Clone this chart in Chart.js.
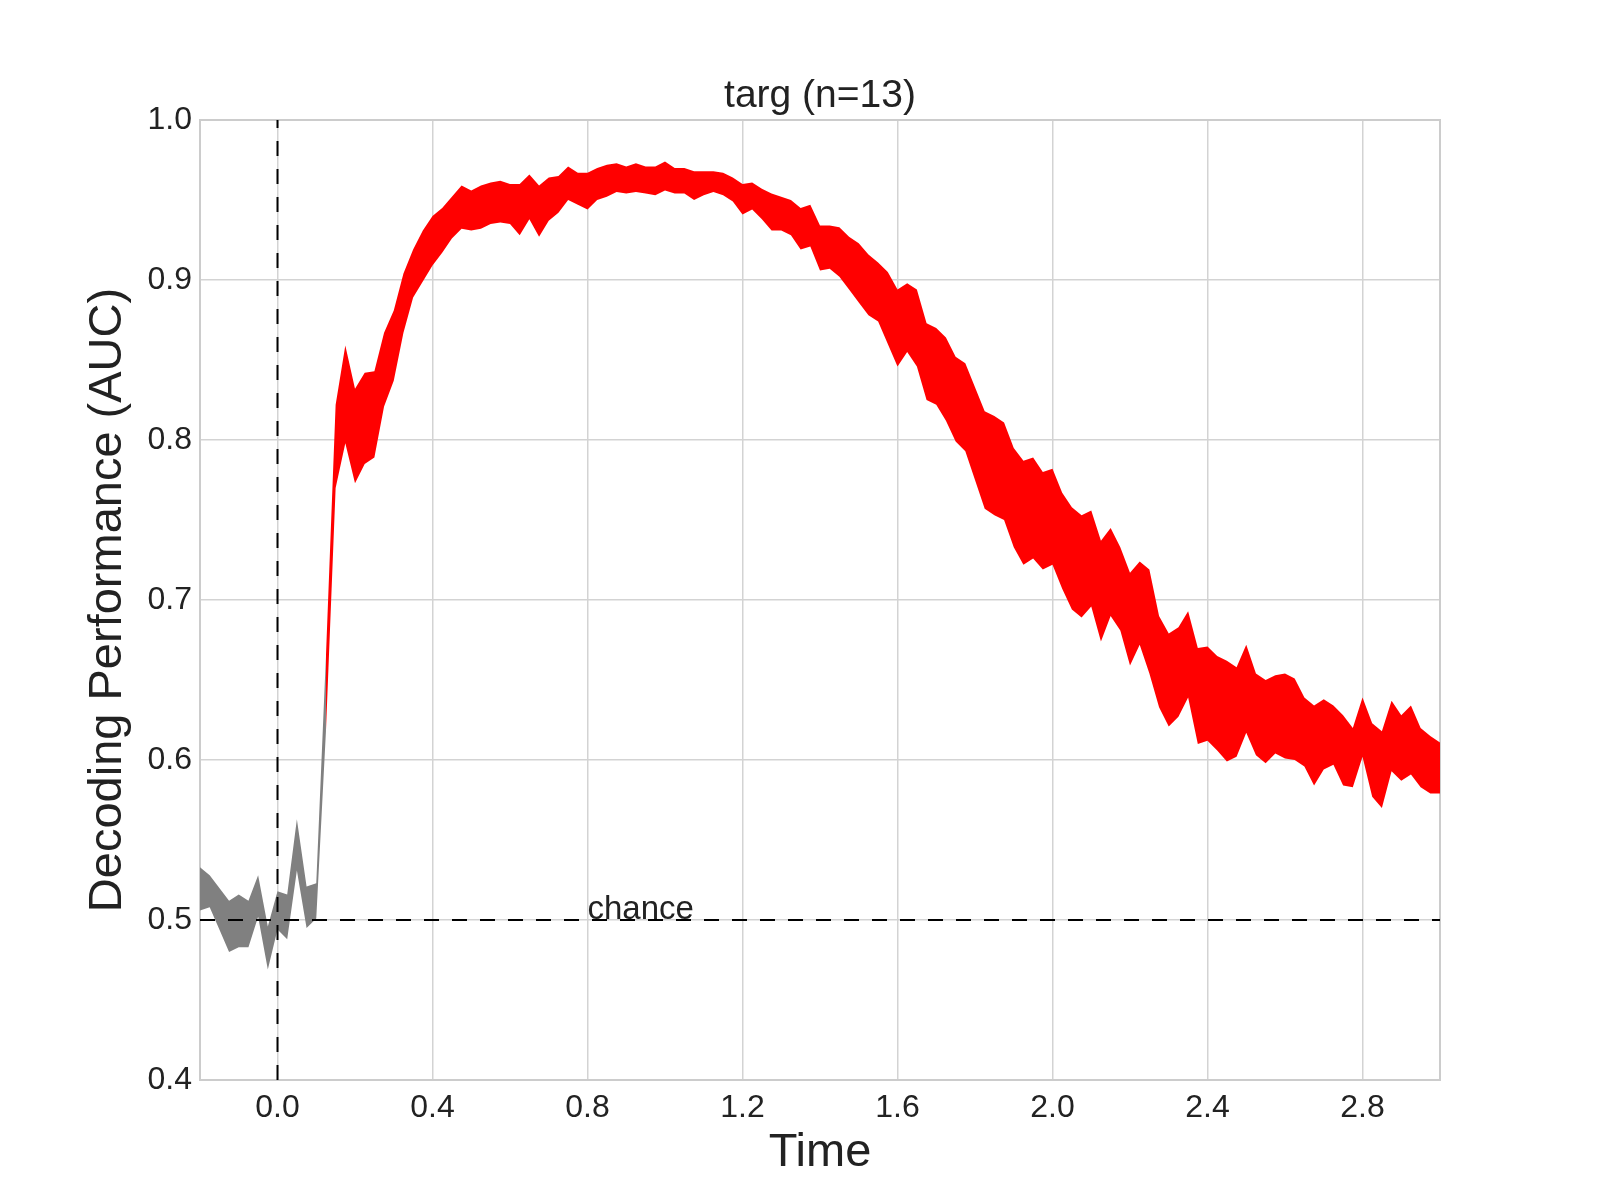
<!DOCTYPE html>
<html>
<head>
<meta charset="utf-8">
<title>targ (n=13)</title>
<script src="https://cdn.jsdelivr.net/npm/chart.js@4.4.1/dist/chart.umd.min.js"></script>
<style>
  html, body { margin: 0; padding: 0; background: #ffffff; }
  #wrap { width: 1600px; height: 1200px; position: relative; }
</style>
</head>
<body>
<div id="wrap"><canvas id="chart"></canvas></div>
<script>
// time axis (s), one sample every 25 ms
const times = [
  -0.2, -0.175, -0.15, -0.125, -0.1, -0.075, -0.05, -0.025,
  0.0, 0.025, 0.05, 0.075, 0.1, 0.125, 0.15, 0.175,
  0.2, 0.225, 0.25, 0.275, 0.3, 0.325, 0.35, 0.375,
  0.4, 0.425, 0.45, 0.475, 0.5, 0.525, 0.55, 0.575,
  0.6, 0.625, 0.65, 0.675, 0.7, 0.725, 0.75, 0.775,
  0.8, 0.825, 0.85, 0.875, 0.9, 0.925, 0.95, 0.975,
  1.0, 1.025, 1.05, 1.075, 1.1, 1.125, 1.15, 1.175,
  1.2, 1.225, 1.25, 1.275, 1.3, 1.325, 1.35, 1.375,
  1.4, 1.425, 1.45, 1.475, 1.5, 1.525, 1.55, 1.575,
  1.6, 1.625, 1.65, 1.675, 1.7, 1.725, 1.75, 1.775,
  1.8, 1.825, 1.85, 1.875, 1.9, 1.925, 1.95, 1.975,
  2.0, 2.025, 2.05, 2.075, 2.1, 2.125, 2.15, 2.175,
  2.2, 2.225, 2.25, 2.275, 2.3, 2.325, 2.35, 2.375,
  2.4, 2.425, 2.45, 2.475, 2.5, 2.525, 2.55, 2.575,
  2.6, 2.625, 2.65, 2.675, 2.7, 2.725, 2.75, 2.775,
  2.8, 2.825, 2.85, 2.875, 2.9, 2.925, 2.95, 2.975,
  3.0
];

// upper edge of the AUC band
const aucUpper = [
  0.533, 0.528, 0.520, 0.512, 0.516, 0.512, 0.528, 0.496,
  0.518, 0.516, 0.563, 0.521, 0.523, 0.665, 0.822, 0.859,
  0.832, 0.842, 0.843, 0.867, 0.881, 0.904, 0.919, 0.931,
  0.940, 0.945, 0.952, 0.959, 0.956, 0.959, 0.961, 0.962,
  0.960, 0.960, 0.966, 0.959, 0.964, 0.965, 0.971, 0.967,
  0.967, 0.970, 0.972, 0.973, 0.971, 0.973, 0.971, 0.971,
  0.974, 0.970, 0.970, 0.968, 0.968, 0.968, 0.967, 0.964,
  0.960, 0.961, 0.957, 0.954, 0.952, 0.950, 0.945, 0.947,
  0.934, 0.934, 0.933, 0.927, 0.923, 0.916, 0.911, 0.905,
  0.894, 0.898, 0.894, 0.873, 0.870, 0.864, 0.852, 0.848,
  0.833, 0.818, 0.815, 0.811, 0.795, 0.787, 0.789, 0.780,
  0.782, 0.767, 0.758, 0.753, 0.756, 0.737, 0.745, 0.733,
  0.717, 0.724, 0.719, 0.690, 0.679, 0.683, 0.693, 0.670,
  0.671, 0.665, 0.662, 0.658, 0.672, 0.654, 0.650, 0.653,
  0.654, 0.651, 0.639, 0.634, 0.638, 0.634, 0.628, 0.620,
  0.639, 0.623, 0.618, 0.637, 0.628, 0.634, 0.620, 0.615,
  0.611
];

// lower edge of the AUC band
const aucLower = [
  0.506, 0.508, 0.494, 0.480, 0.483, 0.483, 0.502, 0.469,
  0.494, 0.488, 0.531, 0.495, 0.501, 0.618, 0.770, 0.798,
  0.773, 0.785, 0.789, 0.821, 0.837, 0.867, 0.889, 0.899,
  0.909, 0.917, 0.926, 0.932, 0.931, 0.932, 0.935, 0.936,
  0.935, 0.928, 0.938, 0.927, 0.937, 0.942, 0.950, 0.947,
  0.944, 0.950, 0.952, 0.955, 0.954, 0.955, 0.954, 0.953,
  0.956, 0.954, 0.954, 0.950, 0.953, 0.955, 0.953, 0.949,
  0.941, 0.944, 0.938, 0.931, 0.931, 0.928, 0.919, 0.921,
  0.906, 0.907, 0.902, 0.894, 0.886, 0.878, 0.874, 0.860,
  0.846, 0.855, 0.846, 0.825, 0.822, 0.812, 0.799, 0.793,
  0.775, 0.757, 0.753, 0.750, 0.733, 0.722, 0.726, 0.719,
  0.722, 0.707, 0.694, 0.689, 0.696, 0.674, 0.690, 0.681,
  0.659, 0.672, 0.654, 0.633, 0.621, 0.627, 0.639, 0.610,
  0.612, 0.606, 0.599, 0.602, 0.617, 0.603, 0.598, 0.604,
  0.601, 0.600, 0.596, 0.584, 0.594, 0.597, 0.584, 0.583,
  0.602, 0.577, 0.570, 0.593, 0.587, 0.591, 0.583, 0.579,
  0.579
];

// first significant sample (band turns red from here)
const sigStart = 0.125;
const chanceLevel = 0.5;
const chanceLabel = 'chance';
const chanceLabelAt = 0.8;
const onsetTime = 0.0;

const xTicks = [0.0, 0.4, 0.8, 1.2, 1.6, 2.0, 2.4, 2.8];
const xRange = [-0.2, 3.0];
const yRange = [0.4, 1.0];

const titleText = 'targ (n=13)';
const xLabel = 'Time';
const yLabel = 'Decoding Performance (AUC)';

const FONT = '"Liberation Sans", Arial, Helvetica, sans-serif';
const TEXT = '#222222';
const GRID = '#d3d3d3';
const RED = '#ff0000';
const GRAY = '#808080';

const sigIdx = times.indexOf(sigStart);

function points(values, from, to) {
  return times.slice(from, to).map((t, i) => ({ x: t, y: values[from + i] }));
}

function bandEdge(values, from, to, color, fill) {
  return {
    data: points(values, from, to),
    borderWidth: 0,
    borderColor: color,
    backgroundColor: color,
    pointRadius: 0,
    tension: 0,
    fill,
    order: 2
  };
}

function dashedLine(data) {
  return {
    data,
    borderColor: '#000000',
    borderWidth: 2,
    borderDash: [15, 13],
    pointRadius: 0,
    fill: false,
    order: 0
  };
}

const frame = {
  id: 'frame',
  beforeDatasetsDraw(chart) {
    const { ctx, chartArea: a } = chart;
    ctx.save();
    ctx.strokeStyle = '#cccccc';
    ctx.lineWidth = 2;
    ctx.strokeRect(a.left, a.top, a.right - a.left, a.bottom - a.top);
    ctx.restore();
  },
  afterDraw(chart) {
    const { ctx, chartArea: a, scales } = chart;
    ctx.save();
    ctx.fillStyle = TEXT;
    ctx.font = `39px ${FONT}`;
    ctx.textAlign = 'center';
    ctx.textBaseline = 'alphabetic';
    ctx.fillText(titleText, (a.left + a.right) / 2, 107);

    ctx.font = `33px ${FONT}`;
    ctx.textAlign = 'left';
    ctx.fillText(chanceLabel, scales.x.getPixelForValue(chanceLabelAt), scales.y.getPixelForValue(chanceLevel) - 1);
    ctx.restore();
  }
};

new Chart(document.getElementById('chart'), {
  type: 'line',
  data: {
    datasets: [
      dashedLine([{ x: xRange[0], y: chanceLevel }, { x: xRange[1], y: chanceLevel }]),
      dashedLine([{ x: onsetTime, y: yRange[0] }, { x: onsetTime, y: yRange[1] }]),
      bandEdge(aucUpper, sigIdx, times.length, RED, '+1'),
      bandEdge(aucLower, sigIdx, times.length, RED, false),
      bandEdge(aucUpper, 0, sigIdx + 1, GRAY, '+1'),
      bandEdge(aucLower, 0, sigIdx + 1, GRAY, false)
    ]
  },
  options: {
    responsive: true,
    maintainAspectRatio: false,
    animation: false,
    layout: { padding: { top: 120, right: 160, left: 0, bottom: 0 } },
    plugins: {
      legend: { display: false },
      tooltip: { enabled: false },
      title: { display: false }
    },
    scales: {
      x: {
        type: 'linear',
        min: xRange[0],
        max: xRange[1],
        afterBuildTicks(scale) {
          scale.ticks = xTicks.map((v) => ({ value: v }));
        },
        afterFit(scale) {
          scale.height = 120;
        },
        grid: { color: GRID, lineWidth: 1.5, drawTicks: false },
        border: { display: false },
        ticks: {
          padding: 9,
          color: TEXT,
          font: { family: FONT, size: 32 },
          maxRotation: 0,
          callback: (v) => Number(v).toFixed(1)
        },
        title: {
          display: true,
          text: xLabel,
          color: TEXT,
          font: { family: FONT, size: 47 },
          padding: { top: 0, bottom: 19 }
        }
      },
      y: {
        min: yRange[0],
        max: yRange[1],
        afterFit(scale) {
          scale.width = 200;
        },
        grid: { color: GRID, lineWidth: 1.5, drawTicks: false },
        border: { display: false },
        ticks: {
          stepSize: 0.1,
          padding: 8,
          color: TEXT,
          font: { family: FONT, size: 32 },
          callback: (v) => Number(v).toFixed(1)
        },
        title: {
          display: true,
          text: yLabel,
          color: TEXT,
          font: { family: FONT, size: 47 },
          padding: { top: 80, bottom: 0 }
        }
      }
    }
  },
  plugins: [frame]
});
</script>
</body>
</html>
